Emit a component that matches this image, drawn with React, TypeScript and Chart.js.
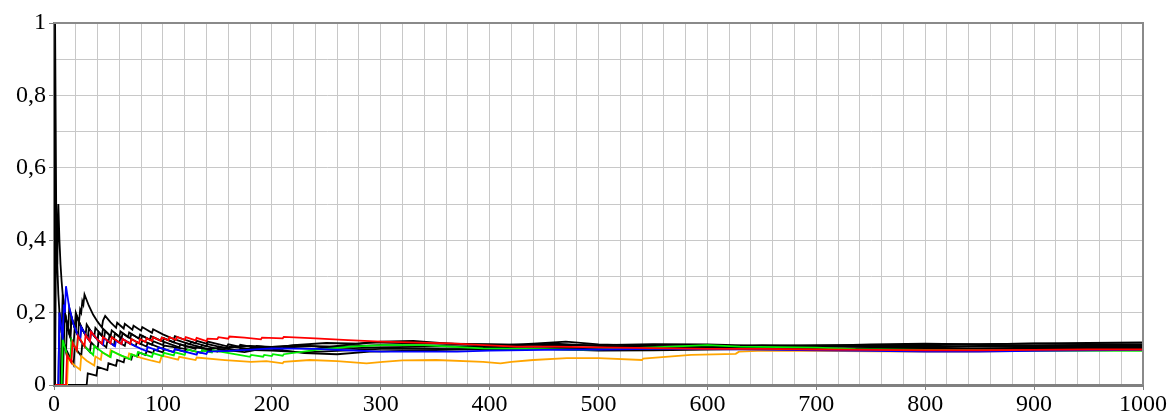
import React, { useEffect, useRef } from "react";
import { Chart, registerables } from "chart.js";

Chart.register(...registerables);

// Relative frequency paths: [trial n, relative frequency]
const blackA: number[][] = [[0,0],[1,1],[2,0.5],[3,0.333],[4,0.5],[5,0.4],[6,0.333],[7,0.286],[8,0.25],[10,0.2],[12,0.167],[15,0.133],[18,0.111],[19,0.158],[22,0.136],[23,0.174],[27,0.148],[31,0.129],[32,0.156],[37,0.135],[38,0.158],[44,0.136],[45,0.156],[52,0.135],[53,0.151],[60,0.133],[61,0.148],[68,0.132],[69,0.145],[78,0.128],[79,0.139],[88,0.125],[89,0.135],[98,0.122],[99,0.131],[110,0.118],[111,0.126],[125,0.112],[126,0.119],[140,0.107],[141,0.113],[160,0.1],[161,0.106],[180,0.1],[181,0.105],[200,0.102],[220,0.11],[250,0.116],[280,0.114],[300,0.12],[330,0.122],[360,0.115],[400,0.108],[440,0.114],[470,0.12],[500,0.112],[550,0.108],[600,0.106],[650,0.11],[700,0.108],[750,0.112],[800,0.114],[850,0.112],[900,0.115],[950,0.116],[1000,0.118]];
const blackB: number[][] = [[1,0],[6,0],[7,0.143],[11,0.091],[12,0.167],[15,0.133],[16,0.1875],[19,0.158],[20,0.2],[23,0.174],[24,0.208],[25,0.2],[26,0.231],[27,0.222],[28,0.25],[32,0.219],[36,0.194],[40,0.175],[44,0.159],[45,0.178],[47,0.191],[52,0.173],[57,0.158],[58,0.172],[64,0.156],[65,0.169],[72,0.153],[73,0.164],[80,0.15],[81,0.16],[90,0.144],[91,0.154],[100,0.14],[110,0.127],[111,0.135],[122,0.123],[130,0.115],[131,0.122],[140,0.114],[141,0.12],[159,0.107],[160,0.1125],[170,0.106],[171,0.111],[185,0.103],[186,0.108],[210,0.1],[211,0.104],[240,0.1],[260,0.108],[290,0.118],[320,0.116],[360,0.114],[400,0.113],[450,0.11],[500,0.11],[550,0.113],[600,0.112],[650,0.108],[700,0.108],[750,0.105],[800,0.105],[850,0.108],[900,0.108],[950,0.11],[1000,0.11]];
const blackC: number[][] = [[1,0],[30,0],[31,0.032],[39,0.026],[40,0.05],[49,0.041],[50,0.06],[57,0.053],[58,0.069],[64,0.0625],[65,0.077],[71,0.07],[72,0.083],[77,0.078],[78,0.09],[84,0.083],[85,0.094],[91,0.088],[92,0.098],[100,0.09],[101,0.099],[110,0.091],[111,0.099],[120,0.092],[121,0.099],[135,0.089],[136,0.096],[150,0.093],[175,0.097],[200,0.095],[230,0.09],[260,0.094],[300,0.1],[350,0.1],[400,0.098],[450,0.1],[500,0.1],[550,0.102],[600,0.104],[650,0.105],[700,0.105],[750,0.11],[800,0.112],[850,0.113],[900,0.114],[950,0.113],[1000,0.113]];
const blackD: number[][] = [[1,0],[4,0],[5,0.2],[9,0.111],[10,0.2],[12,0.167],[15,0.133],[16,0.1875],[20,0.15],[24,0.125],[25,0.16],[29,0.138],[33,0.121],[34,0.147],[40,0.125],[41,0.146],[45,0.133],[50,0.12],[51,0.137],[55,0.127],[60,0.117],[61,0.131],[70,0.114],[71,0.127],[80,0.1125],[81,0.123],[90,0.111],[91,0.121],[100,0.11],[101,0.119],[115,0.104],[116,0.112],[130,0.1],[131,0.107],[150,0.093],[151,0.099],[175,0.091],[200,0.105],[225,0.11],[250,0.104],[275,0.102],[300,0.104],[350,0.106],[400,0.107],[430,0.11],[460,0.114],[500,0.108],[550,0.104],[600,0.1],[650,0.102],[700,0.1],[750,0.102],[800,0.104],[850,0.106],[900,0.106],[950,0.105],[1000,0.106]];
const blackE: number[][] = [[1,0],[2,0.5],[3,0.333],[4,0.25],[5,0.2],[6,0.167],[7,0.143],[8,0.25],[10,0.2],[13,0.154],[14,0.214],[17,0.176],[20,0.15],[21,0.19],[25,0.16],[29,0.138],[30,0.167],[35,0.143],[40,0.125],[41,0.146],[46,0.13],[47,0.149],[52,0.135],[55,0.127],[56,0.143],[62,0.129],[63,0.143],[70,0.129],[71,0.141],[80,0.125],[81,0.136],[90,0.122],[91,0.132],[100,0.12],[101,0.129],[110,0.118],[120,0.108],[121,0.116],[135,0.104],[136,0.11],[150,0.1],[151,0.106],[170,0.094],[171,0.1],[200,0.1],[230,0.088],[260,0.085],[290,0.092],[330,0.095],[370,0.098],[400,0.1],[450,0.102],[500,0.104],[550,0.105],[600,0.107],[650,0.108],[700,0.11],[750,0.11],[800,0.109],[850,0.106],[900,0.104],[950,0.104],[1000,0.104]];
const blackF: number[][] = [[1,0],[8,0],[9,0.111],[18,0.056],[19,0.105],[25,0.08],[26,0.115],[33,0.091],[34,0.118],[40,0.1],[41,0.122],[48,0.104],[49,0.122],[55,0.109],[56,0.125],[65,0.108],[66,0.121],[75,0.107],[76,0.118],[85,0.106],[86,0.116],[100,0.1],[101,0.109],[120,0.1],[121,0.107],[140,0.1],[160,0.104],[180,0.108],[200,0.105],[230,0.108],[260,0.106],[300,0.11],[350,0.108],[400,0.104],[450,0.1],[500,0.095],[550,0.096],[600,0.098],[650,0.1],[700,0.102],[750,0.1],[800,0.1],[850,0.1],[900,0.1],[950,0.101],[1000,0.101]];
const redPath: number[][] = [[1,0],[11,0],[12,0.083],[16,0.0625],[17,0.118],[21,0.095],[22,0.136],[28,0.107],[29,0.138],[33,0.121],[34,0.147],[40,0.125],[44,0.114],[45,0.133],[52,0.115],[53,0.132],[62,0.113],[63,0.127],[70,0.114],[71,0.127],[78,0.115],[79,0.127],[84,0.119],[85,0.129],[90,0.122],[91,0.132],[98,0.122],[99,0.131],[105,0.124],[106,0.132],[112,0.125],[113,0.133],[120,0.125],[121,0.132],[130,0.123],[131,0.13],[140,0.121],[141,0.128],[150,0.127],[151,0.132],[160,0.128],[161,0.134],[175,0.131],[190,0.126],[191,0.131],[210,0.129],[211,0.133],[240,0.129],[270,0.124],[300,0.12],[335,0.117],[365,0.115],[395,0.11],[425,0.106],[460,0.106],[500,0.104],[550,0.102],[600,0.1],[650,0.1],[700,0.098],[750,0.097],[800,0.096],[850,0.096],[900,0.097],[950,0.098],[1000,0.098]];
const bluePath: number[][] = [[1,0],[4,0],[5,0.2],[8,0.125],[9,0.222],[10,0.2],[11,0.273],[14,0.214],[18,0.167],[22,0.136],[24,0.125],[25,0.16],[30,0.133],[33,0.121],[34,0.147],[40,0.125],[45,0.111],[46,0.13],[52,0.115],[56,0.107],[57,0.123],[62,0.113],[63,0.127],[70,0.114],[80,0.1],[85,0.094],[86,0.105],[95,0.095],[96,0.104],[110,0.091],[111,0.099],[131,0.084],[132,0.091],[140,0.086],[141,0.092],[160,0.094],[177,0.097],[200,0.101],[240,0.1],[270,0.096],[300,0.092],[340,0.092],[370,0.092],[400,0.095],[450,0.097],[500,0.098],[550,0.1],[600,0.099],[650,0.098],[700,0.096],[750,0.094],[800,0.092],[850,0.092],[900,0.094],[950,0.096],[1000,0.097]];
const greenPath: number[][] = [[1,0],[7,0],[8,0.125],[12,0.083],[15,0.067],[16,0.125],[21,0.095],[22,0.136],[28,0.107],[36,0.083],[37,0.108],[45,0.089],[52,0.077],[53,0.094],[62,0.081],[70,0.071],[71,0.085],[76,0.079],[77,0.091],[90,0.078],[91,0.088],[100,0.08],[101,0.089],[110,0.082],[111,0.09],[120,0.083],[121,0.091],[123,0.0976],[135,0.089],[136,0.096],[145,0.09],[146,0.096],[180,0.078],[181,0.083],[192,0.078],[193,0.083],[200,0.08],[201,0.085],[210,0.081],[211,0.085],[241,0.097],[272,0.106],[302,0.11],[340,0.11],[364,0.106],[394,0.101],[450,0.099],[486,0.097],[550,0.104],[600,0.11],[630,0.106],[700,0.103],[736,0.099],[800,0.097],[900,0.095],[1000,0.094]];
const orangePath: number[][] = [[1,0],[12,0],[13,0.077],[18,0.056],[24,0.042],[25,0.08],[30,0.067],[37,0.054],[38,0.079],[43,0.07],[44,0.091],[51,0.078],[52,0.096],[60,0.083],[68,0.074],[69,0.087],[80,0.075],[90,0.067],[97,0.062],[98,0.071],[99,0.081],[110,0.073],[114,0.07],[115,0.078],[130,0.069],[131,0.076],[157,0.069],[181,0.064],[195,0.066],[210,0.06],[211,0.064],[235,0.069],[260,0.066],[287,0.06],[302,0.064],[320,0.068],[351,0.069],[394,0.064],[410,0.06],[420,0.064],[440,0.069],[471,0.074],[500,0.074],[540,0.069],[541,0.073],[585,0.083],[626,0.086],[629,0.092],[652,0.095],[700,0.094],[750,0.093],[800,0.092],[837,0.092],[900,0.094],[950,0.096],[1000,0.097]];

const xTickLabels: number[] = [0, 100, 200, 300, 400, 500, 600, 700, 800, 900, 1000];
const yTickLabels: string[] = ["0", "0,2", "0,4", "0,6", "0,8", "1"];

const seriesList: { path: number[][]; color: string }[] = [
  { path: redPath, color: "#ff0000" },
  { path: bluePath, color: "#0000ff" },
  { path: greenPath, color: "#00ee00" },
  { path: orangePath, color: "#ffa500" },
  { path: blackA, color: "#000000" },
  { path: blackB, color: "#000000" },
  { path: blackC, color: "#000000" },
  { path: blackD, color: "#000000" },
  { path: blackE, color: "#000000" },
  { path: blackF, color: "#000000" },
];

const FONT = { family: "'Liberation Serif', 'DejaVu Serif', serif", size: 24 };

const framePlugin = {
  id: "frame",
  afterDraw(chart: any) {
    const { ctx, chartArea } = chart;
    ctx.save();
    ctx.strokeStyle = "#8a8a8a";
    ctx.lineWidth = 2;
    ctx.beginPath();
    ctx.moveTo(chartArea.left, chartArea.top);
    ctx.lineTo(chartArea.right, chartArea.top);
    ctx.lineTo(chartArea.right, chartArea.bottom);
    ctx.stroke();
    ctx.restore();
  },
};

export default function App() {
  const ref = useRef<HTMLCanvasElement | null>(null);
  useEffect(() => {
    if (!ref.current) return;
    const chart = new Chart(ref.current, {
      type: "line",
      data: {
        datasets: seriesList.map((s) => ({
          data: s.path.map(([x, y]) => ({ x, y })),
          borderColor: s.color,
          backgroundColor: s.color,
          borderWidth: 1.8,
          pointRadius: 0,
          fill: false,
          tension: 0,
        })),
      },
      options: {
        animation: false,
        responsive: true,
        maintainAspectRatio: false,
        layout: { padding: { left: 0, right: 29, top: 23, bottom: 0 } },
        plugins: { legend: { display: false }, tooltip: { enabled: false } },
        scales: {
          x: {
            type: "linear",
            min: 0,
            max: 1000,
            afterFit: (s: any) => { s.height = 28; },
            ticks: {
              stepSize: 20,
              autoSkip: false,
              maxRotation: 0,
              padding: 0,
              color: "#000",
              font: FONT,
              callback: (v: any) => {
                const n = Math.round(Number(v));
                return xTickLabels.includes(n) ? String(n) : "";
              },
            },
            grid: {
              color: "#c8c8c8",
              lineWidth: 1,
              tickLength: 5,
              tickColor: (c: any) => (c.tick && xTickLabels.includes(Math.round(c.tick.value)) ? "#808080" : "rgba(0,0,0,0)"),
            },
            border: { color: "#808080", width: 3 },
          },
          y: {
            type: "linear",
            min: 0,
            max: 1,
            afterFit: (s: any) => { s.width = 54; },
            ticks: {
              stepSize: 0.1,
              autoSkip: false,
              padding: 3,
              color: "#000",
              font: FONT,
              callback: (v: any) => {
                const r = Math.round(Number(v) * 10);
                return r % 2 === 0 ? yTickLabels[r / 2] : "";
              },
            },
            grid: {
              color: "#c8c8c8",
              lineWidth: 1,
              tickLength: 5,
              tickColor: (c: any) => (c.tick && Math.round(c.tick.value * 10) % 2 === 0 ? "#808080" : "rgba(0,0,0,0)"),
            },
            border: { color: "#808080", width: 3 },
          },
        },
      },
      plugins: [framePlugin],
    });
    return () => chart.destroy();
  }, []);
  return (
    <div style={{ position: "fixed", left: 0, top: 0, width: 1172, height: 413, background: "#fff" }}>
      <canvas ref={ref} />
    </div>
  );
}
